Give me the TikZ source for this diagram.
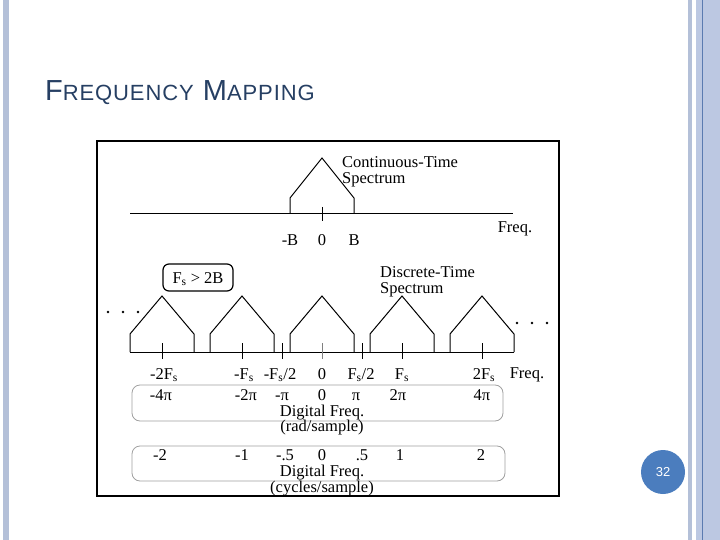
\documentclass[tikz,border=0pt]{standalone}
\usepackage{fontspec}
\setmainfont{Liberation Serif}
\newfontfamily\titlefont[LetterSpace=4]{Liberation Sans}
\newfontfamily\numfont{Liberation Sans}
\usetikzlibrary{positioning}
\definecolor{barblue}{HTML}{B4C0D8}
\definecolor{barlight}{HTML}{BCC8E2}
\definecolor{barline}{HTML}{5B7BB0}
\definecolor{titleblue}{HTML}{263F63}
\definecolor{numblue}{HTML}{4B7DBE}
\definecolor{boxgray}{HTML}{A0A0A0}
\tikzset{
  lbl/.style={font=\fontsize{16.5}{17}\selectfont,inner sep=0pt,anchor=base},
  lblw/.style={lbl,anchor=base west},
  spec/.style={line width=1pt},
  band/.style={draw=boxgray,rounded corners=8pt,line width=0.8pt},
  tick/.style={line width=1pt}
}
\newcommand{\Fs}{F\textsubscript{s}}

\begin{document}
\begin{tikzpicture}[x=1pt,y=-1pt]
\useasboundingbox (0,0) rectangle (720,540);
% slide decoration
\fill[barblue] (3,0) rectangle (9,540);
\fill[barblue] (688,0) rectangle (692,540);
\fill[barlight] (696,0) rectangle (720,540);
\draw[barline,line width=0.8pt] (702.5,0)--(702.5,540);
\node[anchor=base west,text=titleblue,inner sep=0pt] (title) at (45,101)
  {\titlefont\fontsize{29}{30}\selectfont F{\fontsize{22}{24}\selectfont REQUENCY} M{\fontsize{22}{24}\selectfont APPING}};
\fill[numblue] (663,472) circle (22);
\node[text=white,font=\numfont\fontsize{13}{14}\selectfont] (pagenum) at (663,472) {32};
% figure frame
\draw[line width=1.2pt] (97,141) rectangle (559,496);

% continuous-time spectrum
\draw[line width=1pt] (130,214)--(513,214);
\draw[spec] (290,214)--(290,198)--(322,158)--(354,198)--(354,214);
\draw[tick] (322,207)--(322,221);
\node[lbl] (ctB) at (290,245) {-B};
\node[lbl] (ct0) at (322,245) {0};
\node[lbl] (ctBp) at (354,245) {B};
\node[lbl] (ctfreq) at (515,233) {Freq.};
\node[lblw] (ctname) at (342,168) {Continuous-Time};
\node[lblw] (ctspec) at (342,184) {Spectrum};

% discrete-time spectrum
\draw[line width=1pt] (130,352)--(514,352);
\foreach \c in {162,242,322,402,482}
  \draw[spec] (\c-32,352)--(\c-32,334)--(\c,296)--(\c+32,334)--(\c+32,352);
\foreach \c in {162,242,282,362,402,482}
  \draw[tick] (\c,343)--(\c,359);
\draw[gray] (322,343)--(322,359);
\foreach \x in {108,123,138} \fill (\x,312) circle (1.3);
\foreach \x in {517,532,547} \fill (\x,323) circle (1.3);
\draw[line width=1.2pt,rounded corners=6pt] (163,264) rectangle (233,291);
\node[lbl] (cond) at (198,283) {\Fs\ > 2B};
\node[lblw] (dtname) at (380,277) {Discrete-Time};
\node[lblw] (dtspec) at (380,293) {Spectrum};

% frequency labels
\node[lbl] (f1) at (164,379) {-2\Fs};
\node[lbl] (f2) at (244,379) {-\Fs};
\node[lbl] (f3) at (280,379) {-\Fs/2};
\node[lbl] (f4) at (322,379) {0};
\node[lbl] (f5) at (361,379) {\Fs/2};
\node[lbl] (f6) at (402,379) {\Fs};
\node[lbl] (f7) at (484,379) {2\Fs};
\node[lbl] (dtfreq) at (527,378) {Freq.};

% rad/sample band
\draw[band] (132,385) rectangle (503,421);
\node[lbl] (w1) at (161,400) {-4π};
\node[lbl] (w2) at (246,400) {-2π};
\node[lbl] (w3) at (282,400) {-π};
\node[lbl] (w4) at (322,400) {0};
\node[lbl] (w5) at (356,400) {π};
\node[lbl] (w6) at (398,400) {2π};
\node[lbl] (w7) at (482,400) {4π};
\node[lbl] (radname) at (322,416) {Digital Freq.};
\node[lbl] (radunit) at (322,431) {(rad/sample)};

% cycles/sample band
\draw[band] (132,446) rectangle (505,481);
\node[lbl] (n1) at (160,460) {-2};
\node[lbl] (n2) at (242,460) {-1};
\node[lbl] (n3) at (285,460) {-.5};
\node[lbl] (n4) at (322,460) {0};
\node[lbl] (n5) at (362,460) {.5};
\node[lbl] (n6) at (400,460) {1};
\node[lbl] (n7) at (481,460) {2};
\node[lbl] (cycname) at (322,476) {Digital Freq.};
\node[lbl] (cycunit) at (322,492) {(cycles/sample)};
\end{tikzpicture}
\end{document}
